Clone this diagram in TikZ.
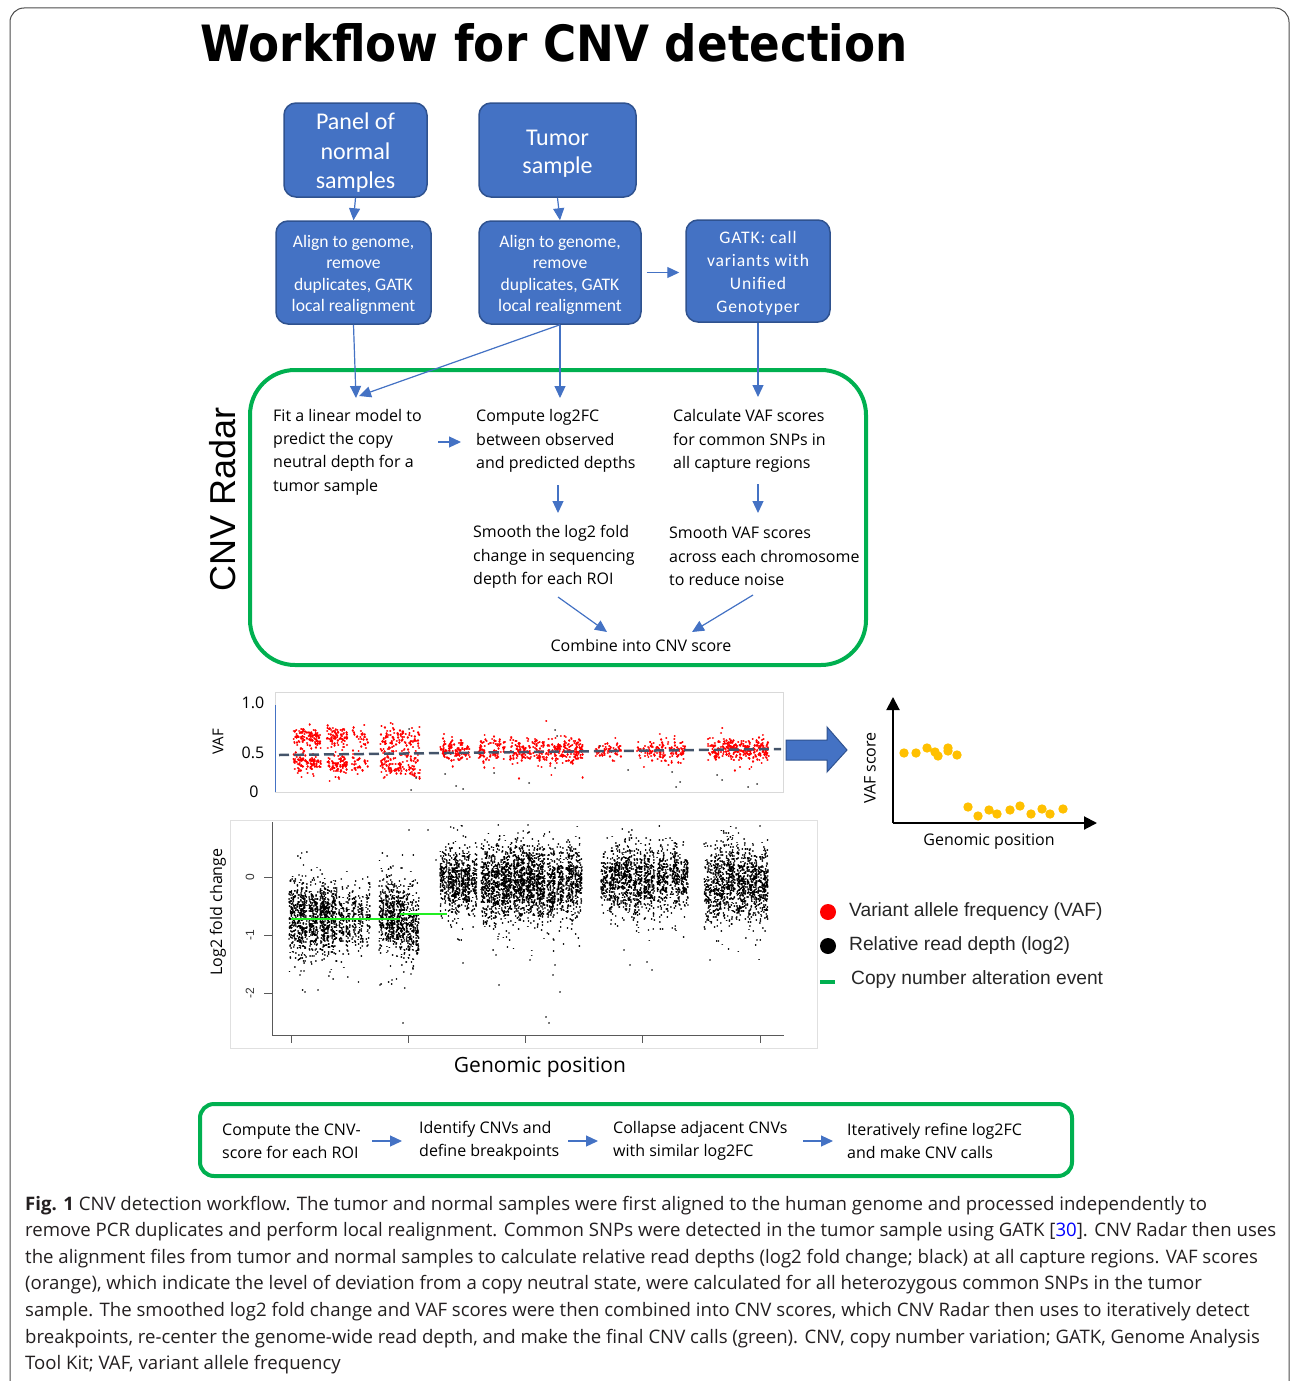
\documentclass[tikz,border=0pt]{standalone}
\usepackage{fontspec}
\setmainfont{Open Sans}
\newfontfamily\carl{Carlito}
\newfontfamily\carlsp{Carlito}[LetterSpace=5]
\newfontfamily\lib{Liberation Sans}
\newfontfamily\dvs{DejaVu Sans}
\usetikzlibrary{arrows.meta}
\definecolor{bbox}{HTML}{4472C4}
\definecolor{bdark}{HTML}{2F528F}
\definecolor{gbox}{HTML}{00B050}
\definecolor{dashcol}{HTML}{44546A}
\definecolor{orng}{HTML}{FFC000}
\definecolor{cnvgreen}{HTML}{22EE22}
\definecolor{captxt}{HTML}{231F20}
\tikzset{
  bluebox/.style={draw=bdark, line width=1.5pt, fill=bbox, rounded corners=12pt, text=white, align=center, inner sep=0pt},
  arr/.style={draw=bbox, line width=1.2pt, -{Triangle[length=12pt,width=11pt]}, fill=bbox},
  gtext/.style={font=\fontsize{16}{23.3}\selectfont, align=left, anchor=west, inner sep=0pt, text=black},
  capline/.style={anchor=base west, inner sep=0pt, font=\fontsize{18.6}{18.6}\selectfont, text=captxt},
  leg/.style={anchor=west, inner sep=0pt, font=\lib\fontsize{19.2}{19.2}\selectfont, text=black!85},
  axlab/.style={inner sep=0pt, font=\fontsize{16}{16}\selectfont, text=black},
  dot/.style={line cap=round, line width=#1},
}
\begin{document}
\begin{tikzpicture}[x=1pt,y=-1pt]
\useasboundingbox (0,0) rectangle (1292,1381);
\pgfmathsetseed{12345}
% outer frame
\draw[black!70, line width=1pt, rounded corners=14pt] (10,1420) -- (10,8) -- (1289,8) -- (1289,1420);
% title
\node[anchor=base, inner sep=0pt] (title) at (554,62) {\scalebox{0.905}[1]{\dvs\bfseries\fontsize{50}{50}\selectfont Workflow for CNV detection}};

% blue boxes
\node[bluebox, minimum width=143pt, minimum height=94pt, font=\carl\fontsize{24}{29.5}\selectfont] (pn) at (355.5,150) {\rule{0pt}{22pt}Panel of\\normal\\samples};
\node[bluebox, minimum width=157pt, minimum height=94pt, font=\carl\fontsize{24}{28}\selectfont] (ts) at (557.5,150) {\rule{0pt}{23pt}Tumor\\sample};
\node[bluebox, minimum width=155pt, minimum height=103pt, font=\carl\fontsize{17.6}{21.3}\selectfont] (al1) at (353.5,272.5) {\rule{0pt}{17pt}Align to genome,\\remove\\duplicates, GATK\\local realignment};
\node[bluebox, minimum width=162pt, minimum height=103pt, font=\carl\fontsize{17.6}{21.3}\selectfont] (al2) at (560,272.5) {\rule{0pt}{17pt}Align to genome,\\remove\\duplicates, GATK\\local realignment};
\node[bluebox, minimum width=144pt, minimum height=102pt, font=\carlsp\fontsize{17.6}{23}\selectfont] (gk) at (758,271) {\rule{0pt}{17pt}GATK: call\\variants with\\Unified\\Genotyper};

\draw[arr] (pn.south) -- (al1.north);
\draw[arr] (ts.south) -- (al2.north);
\draw[arr, shorten <=5pt, shorten >=6pt] (al2.east) -- (gk.west |- al2.east);

% CNV Radar box
\node[draw=gbox, line width=4pt, rounded corners=45pt, minimum width=616pt, minimum height=295pt, inner sep=0pt] (radar) at (558,517.5) {};
\node[rotate=90, inner sep=0pt, font=\lib\fontsize{36}{36}\selectfont] (radarlab) at (222.5,499) {CNV Radar};

\node[gtext] (fit) at (273,452) {Fit a linear model to\\predict the copy\\neutral depth for a\\tumor sample};
\node[gtext] (lfc) at (476,441) {Compute log2FC\\between observed\\and predicted depths};
\node[gtext] (vafc) at (673,441) {Calculate VAF scores\\for common SNPs in\\all capture regions};
\node[gtext] (smo1) at (473,557) {Smooth the log2 fold\\change in sequencing\\depth for each ROI};
\node[gtext] (smo2) at (669,556) {Smooth VAF scores\\across each chromosome\\to reduce noise};
\node[gtext, anchor=center] (comb) at (641,645) {Combine into CNV score};

\coordinate (t1) at (356,398);
\coordinate (t1b) at (359,396);
\coordinate (t2) at (560,398);
\coordinate (t3) at (758,397);
\draw[arr] (al1.south) -- (t1);
\draw[arr] (al2.south) -- (t1b);
\draw[arr] (al2.south) -- (t2);
\draw[arr] (gk.south) -- (t3);

\coordinate (a1s) at (438,442); \coordinate (a1e) at (461,442);
\coordinate (a2s) at (558,485); \coordinate (a2e) at (558,513);
\coordinate (a3s) at (758,484); \coordinate (a3e) at (758,513);
\coordinate (a4s) at (558,597); \coordinate (a4e) at (607,632);
\coordinate (a5s) at (753,595); \coordinate (a5e) at (692,632);
\draw[arr] (a1s) -- (a1e);
\draw[arr] (a2s) -- (a2e);
\draw[arr] (a3s) -- (a3e);
\draw[arr] (a4s) -- (a4e);
\draw[arr] (a5s) -- (a5e);

% ---------------- VAF plot ----------------
\draw[black!15, line width=0.8pt] (275,692) rectangle (783,792);
\draw[bbox, line width=1pt] (275,705) -- (275,792);
\node[axlab] (v10) at (253,703) {1.0};
\node[axlab] (v05) at (253,753) {0.5};
\node[axlab] (v00) at (254,792) {0};
\node[axlab, rotate=90, font=\fontsize{15}{15}\selectfont] (vaflab) at (218,742) {VAF};
\begin{scope}
\clip (276,693) rectangle (782,791);
\foreach \a/\b/\m/\s/\n in {293/321/738/5/50, 327/347/737/5/40, 352/368/740/5/15, 380/420/738/6/55,
  293/321/764/5/50, 327/347/764/5/40, 352/368/764/5/15, 380/420/765/6/60,
  440/470/750/5/55, 478/505/750/5/45, 510/583/751/6/150, 595/621/751/4/30, 637/686/751/5/70, 708/769/750/5/140}
  { \pgfmathtruncatemacro\nn{\n*1.6}
    \pgfmathtruncatemacro\nt{\n*0.3}
    \draw[red, dot=2.4pt] foreach \k in {1,...,\nn} {({\a+(\b-\a)*rnd},{\m+\s*(rand+rand+rand)}) -- ++(0.01,0)};
    \draw[red, dot=2.2pt] foreach \k in {1,...,\nt} {({\a+(\b-\a)*rnd},{\m+1.8*\s*(rand+rand+rand)}) -- ++(0.01,0)}; }
\draw[black!80, dot=2pt] foreach \p in {(416,778),(411,790),(445,774),(456,786),(463,789),(494,773),(529,783),(555,730),(555,768),(557,736),(628,770),(672,772),(676,787),(680,782),(717,775),(722,780),(748,787),(757,784),(409,729),(600,746)} {\p -- ++(0.01,0)};
\end{scope}
\draw[dashcol, line width=2.5pt, dash pattern=on 10pt off 5pt] (279,755) -- (781,749);

% big arrow
\fill[bbox, draw=bdark, line width=1pt] (786,740) -- (827,740) -- (827,727) -- (847,750) -- (827,772) -- (827,760) -- (786,760) -- cycle;

% VAF score plot
\coordinate (vo) at (893,823);
\coordinate (vy) at (893,697);
\coordinate (vx) at (1097,823);
\draw[black, line width=2pt, -{Triangle[length=13pt,width=13pt]}] (vo) -- (vy);
\draw[black, line width=2pt, -{Triangle[length=13pt,width=13pt]}] (vo) -- (vx);
\node[axlab, rotate=90] (vsc) at (870,768) {VAF score};
\node[axlab] (vgp) at (989,842) {Genomic position};
\fill[orng] foreach \p in {(904,753),(916,753),(927,748),(935,752),(938,756),(948,748),(948,751),(957,755),
  (968,807),(978,816),(989,810),(997,814),(1010,810),(1020,806),(1031,814),(1042,809),(1050,814),(1063,809)} {\p circle (4.7)};

% legend
\fill[red] (828,912) circle (8);
\fill[black] (828,946) circle (8);
\draw[gbox, line width=4pt] (820,982) -- (835,982);
\node[leg] (lg1) at (849,912) {Variant allele frequency (VAF)};
\node[leg] (lg2) at (849,946) {Relative read depth (log2)};
\node[leg] (lg3) at (851,980) {Copy number alteration event};

% ---------------- log2 plot ----------------
\draw[black!12, line width=0.8pt] (230,820) rectangle (817,1048);
\begin{scope}
\clip (273,823) rectangle (810,1034);
\foreach \a/\b/\m/\s/\n in {289/296/-0.72/0.3/60, 297/307/-0.70/0.32/110, 309/318/-0.72/0.3/90, 320/330/-0.70/0.28/120,
  331/337/-0.75/0.3/60, 339/344/-0.78/0.27/40, 346/350/-0.8/0.27/30, 352/356/-0.72/0.27/25, 358/363/-0.75/0.27/30,
  366/370/-0.7/0.27/20, 379/384/-0.65/0.3/40, 385/395/-0.62/0.32/110, 396/405/-0.7/0.32/90, 406/414/-0.75/0.32/70, 415/419/-0.75/0.3/30,
  440/447/-0.05/0.27/50, 448/460/-0.1/0.29/120, 461/470/-0.05/0.27/90, 471/477/0.0/0.27/40,
  481/490/-0.12/0.3/90, 491/500/-0.15/0.32/100, 501/512/-0.1/0.3/130, 513/525/-0.1/0.32/140, 526/535/-0.12/0.3/110,
  536/545/-0.1/0.3/100, 547/555/-0.15/0.32/90, 557/564/-0.1/0.3/60, 566/574/-0.08/0.3/80, 575/582/-0.05/0.3/60,
  601/608/0.0/0.24/40, 609/620/-0.05/0.27/90, 621/632/0.0/0.3/100, 633/642/-0.1/0.3/80, 644/655/-0.1/0.29/90,
  657/668/-0.05/0.27/80, 670/680/0.0/0.27/70, 681/688/0.0/0.24/50,
  704/712/-0.15/0.32/50, 713/725/-0.1/0.32/110, 726/735/-0.05/0.32/90, 736/746/-0.1/0.3/90, 747/757/-0.1/0.3/90, 758/768/-0.15/0.3/90}
  { \pgfmathtruncatemacro\nn{\n*2.0}
    \pgfmathtruncatemacro\nt{\n*0.3}
    \draw[black, dot=1.9pt] foreach \k in {1,...,\nn} {({\a+(\b-\a)*rnd},{877-58*(\m+\s*(rand+rand+rand))}) -- ++(0.01,0)};
    \draw[black, dot=1.8pt] foreach \k in {1,...,\nt} {({\a+(\b-\a)*rnd},{877-58*(\m+1.7*\s*(rand+rand+rand))}) -- ++(0.01,0)}; }
\draw[black, dot=1.9pt] foreach \p in {(300,975),(305,992),(318,990),(330,972),(380,985),(392,980),(403,1023),(409,830),(436,860),(463,963),
  (496,955),(499,985),(530,960),(546,1017),(549,1023),(553,975),(555,965),(560,992),(624,950),(630,965),(647,962),(652,970),
  (757,940),(710,960),(428,830),(462,826),(528,825),(760,826),(736,828)} {\p -- ++(0.01,0)};
\end{scope}
\draw[cnvgreen, line width=2pt] (291,919) -- (400,919);
\draw[cnvgreen, line width=2pt] (400,914) -- (447,914);
% axes
\draw[black!65, line width=1pt] (272,822) -- (272,1035) -- (784,1035);
\foreach \y/\t in {877/0, 935/-1, 993/-2} {
  \draw[black!65, line width=1pt] (264,\y) -- (272,\y);
  \node[rotate=90, inner sep=0pt, font=\lib\fontsize{12}{12}\selectfont, text=black!80] at (250,\y) {\t};
}
\foreach \x in {291,408,525,642,760} { \draw[black!65, line width=1pt] (\x,1035) -- (\x,1043); }
\node[axlab, rotate=90] (l2lab) at (218,912) {Log2 fold change};
\node[axlab, font=\fontsize{21}{21}\selectfont] (gp) at (540,1067) {Genomic position};

% ---------------- bottom box ----------------
\node[draw=gbox, line width=4pt, rounded corners=14pt, minimum width=872pt, minimum height=72pt, inner sep=0pt] (steps) at (636,1140) {};
\node[gtext] (s1) at (222,1141) {Compute the CNV-\\score for each ROI};
\node[gtext] (s2) at (419,1141) {Identify CNVs and\\define breakpoints};
\node[gtext] (s3) at (613,1141) {Collapse adjacent CNVs\\with similar log2FC};
\node[gtext] (s4) at (847,1141) {Iteratively refine log2FC\\and make CNV calls};
\coordinate (b1s) at (372,1141); \coordinate (b1e) at (402,1141);
\coordinate (b2s) at (568,1141); \coordinate (b2e) at (598,1141);
\coordinate (b3s) at (803,1141); \coordinate (b3e) at (833,1141);
\draw[arr] (b1s) -- (b1e);
\draw[arr] (b2s) -- (b2e);
\draw[arr] (b3s) -- (b3e);

% ---------------- caption ----------------
\node[capline] (cap1) at (25,1210) {\textbf{Fig. 1} CNV detection workflow. The tumor and normal samples were first aligned to the human genome and processed independently to};
\node[capline] (cap2) at (25,1236) {remove PCR duplicates and perform local realignment. Common SNPs were detected in the tumor sample using GATK [\textcolor{blue}{30}]. CNV Radar then uses};
\node[capline] (cap3) at (25,1263) {the alignment files from tumor and normal samples to calculate relative read depths (log2 fold change; black) at all capture regions. VAF scores};
\node[capline] (cap4) at (25,1289) {(orange), which indicate the level of deviation from a copy neutral state, were calculated for all heterozygous common SNPs in the tumor};
\node[capline] (cap5) at (25,1316) {sample. The smoothed log2 fold change and VAF scores were then combined into CNV scores, which CNV Radar then uses to iteratively detect};
\node[capline] (cap6) at (25,1343) {breakpoints, re-center the genome-wide read depth, and make the final CNV calls (green). CNV, copy number variation; GATK, Genome Analysis};
\node[capline] (cap7) at (25,1369) {Tool Kit; VAF, variant allele frequency};
\end{tikzpicture}
\end{document}
